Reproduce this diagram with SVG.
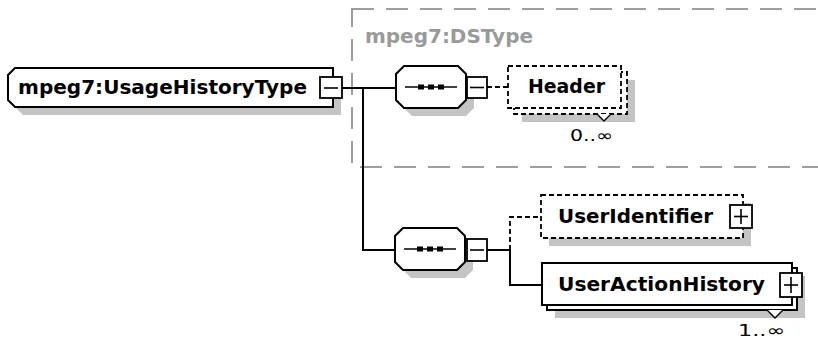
<svg xmlns="http://www.w3.org/2000/svg" width="818" height="342" viewBox="0 0 818 342">
  <style>
    .shadow { fill: #c4c4c4; stroke: none; }
    .box { fill: #ffffff; stroke: #000000; stroke-width: 2; }
    .opt { fill: #ffffff; stroke: #000000; stroke-width: 1.8; stroke-dasharray: 5 3; }
    .wire { fill: none; stroke: #000000; stroke-width: 2; }
    .wire-opt { fill: none; stroke: #000000; stroke-width: 1.8; stroke-dasharray: 5 3; }
    .toggle { fill: #ffffff; stroke: #000000; stroke-width: 1.8; }
    .sign { stroke: #000000; stroke-width: 1.6; }
    .label { font-family: "DejaVu Sans", "Liberation Sans", sans-serif; font-weight: bold; font-size: 19px; fill: #000000; }
    .group-label { font-family: "DejaVu Sans", "Liberation Sans", sans-serif; font-weight: bold; font-size: 19px; fill: #9a9a9a; }
    .card { font-family: "DejaVu Sans", "Liberation Sans", sans-serif; font-size: 16px; fill: #000000; }
  </style>

  <!-- complex type group frame -->
  <g id="dstype-group">
    <rect x="352" y="9" width="480" height="158" fill="none" stroke="#9c9c9c" stroke-width="2" stroke-dasharray="22 12"/>
    <text class="group-label" x="365" y="43" textLength="168" lengthAdjust="spacingAndGlyphs">mpeg7:DSType</text>
  </g>

  <!-- connectors -->
  <g id="connectors">
    <path class="wire" d="M342 88 H396"/>
    <path class="wire" d="M363 88 V250 H395"/>
    <path class="wire-opt" d="M487 87 H508"/>
    <path class="wire" d="M487 250 H510 V285 H542"/>
    <path class="wire-opt" d="M510 250 V217 H541"/>
  </g>

  <!-- root type -->
  <g id="usage-history-type">
    <polygon class="shadow" points="23,76 341,76 341,115 23,115 16,108 16,83"/>
    <polygon class="box" points="15,68 333,68 333,107 15,107 8,100 8,75"/>
    <text class="label" x="18" y="94" textLength="289" lengthAdjust="spacingAndGlyphs">mpeg7:UsageHistoryType</text>
    <rect class="toggle" x="320" y="77" width="22" height="21"/>
    <line class="sign" x1="324" y1="88" x2="338" y2="88"/>
  </g>

  <!-- sequence compositor (base content) -->
  <g id="sequence-1">
    <polygon class="shadow" points="412,74 466,74 474,82 474,108 466,116 412,116 404,108 404,82"/>
    <polygon class="box" points="404,66 458,66 466,74 466,100 458,108 404,108 396,100 396,74"/>
    <line class="sign" x1="405" y1="87" x2="457" y2="87"/>
    <rect x="418" y="84.5" width="6" height="5" fill="#000"/>
    <rect x="428" y="84.5" width="6" height="5" fill="#000"/>
    <rect x="438" y="84.5" width="6" height="5" fill="#000"/>
    <rect class="toggle" x="467" y="77" width="20" height="21"/>
    <line class="sign" x1="470" y1="87.5" x2="484" y2="87.5"/>
  </g>

  <!-- Header element, optional and repeated -->
  <g id="header">
    <rect class="shadow" x="522" y="80" width="113" height="42"/>
    <rect class="opt" x="514" y="72" width="113" height="42"/>
    <rect class="opt" x="508" y="66" width="113" height="42"/>
    <text class="label" x="528" y="93" textLength="77" lengthAdjust="spacingAndGlyphs">Header</text>
    <polyline points="597,114 604,121 611,114" fill="#ffffff" stroke="#000" stroke-width="1.4"/>
    <text class="card" x="570" y="141" textLength="43" lengthAdjust="spacingAndGlyphs">0..∞</text>
  </g>

  <!-- sequence compositor (extension content) -->
  <g id="sequence-2">
    <polygon class="shadow" points="411,236 465,236 473,244 473,270 465,278 411,278 403,270 403,244"/>
    <polygon class="box" points="403,228 457,228 465,236 465,262 457,270 403,270 395,262 395,236"/>
    <line class="sign" x1="404" y1="249" x2="456" y2="249"/>
    <rect x="417" y="246.5" width="6" height="5" fill="#000"/>
    <rect x="427" y="246.5" width="6" height="5" fill="#000"/>
    <rect x="437" y="246.5" width="6" height="5" fill="#000"/>
    <rect class="toggle" x="467" y="239" width="20" height="22"/>
    <line class="sign" x1="470" y1="250" x2="484" y2="250"/>
  </g>

  <!-- UserIdentifier element, optional -->
  <g id="user-identifier">
    <rect class="shadow" x="549" y="203" width="202" height="43"/>
    <rect class="opt" x="541" y="195" width="202" height="43"/>
    <text class="label" x="558" y="223" textLength="155" lengthAdjust="spacingAndGlyphs">UserIdentifier</text>
    <rect class="toggle" x="730" y="205" width="22" height="23"/>
    <line class="sign" x1="734" y1="216.5" x2="748" y2="216.5"/>
    <line class="sign" x1="741" y1="209" x2="741" y2="224"/>
  </g>

  <!-- UserActionHistory element, repeated -->
  <g id="user-action-history">
    <rect class="shadow" x="555" y="276" width="250" height="42"/>
    <rect class="box" x="547" y="268" width="250" height="42"/>
    <rect class="box" x="542" y="263" width="250" height="42"/>
    <text class="label" x="558" y="291" textLength="207" lengthAdjust="spacingAndGlyphs">UserActionHistory</text>
    <rect class="toggle" x="780" y="273" width="22" height="24"/>
    <line class="sign" x1="784" y1="285" x2="798" y2="285"/>
    <line class="sign" x1="791" y1="277" x2="791" y2="293"/>
    <polyline points="767,310 775,318 783,310" fill="#ffffff" stroke="#000" stroke-width="1.4"/>
    <text class="card" x="738" y="336" textLength="47" lengthAdjust="spacingAndGlyphs">1..∞</text>
  </g>
</svg>
